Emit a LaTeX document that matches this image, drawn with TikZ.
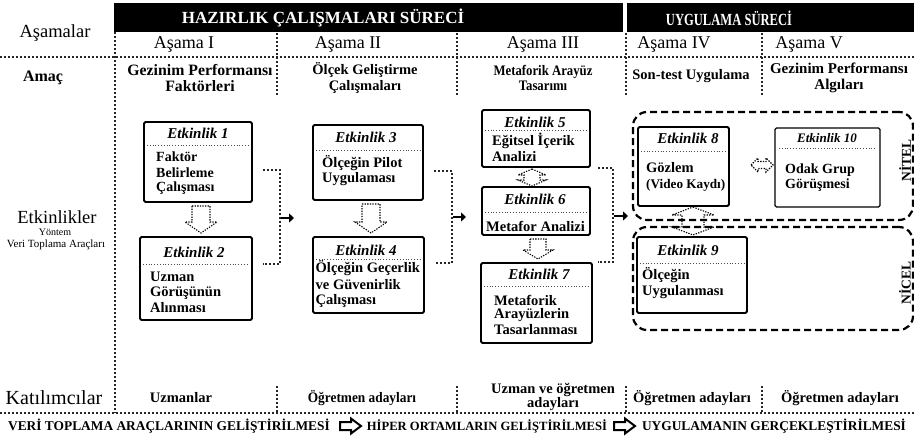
\documentclass[tikz,border=0pt]{standalone}
\usepackage{fontspec}
\setmainfont{Liberation Serif}
\usetikzlibrary{arrows.meta,calc}
\newcommand{\myfs}[1]{\fontsize{#1}{#1}\selectfont}
\begin{document}
\begin{tikzpicture}[x=1pt,y=-1pt,
  gridline/.style={line width=1.5pt, dash pattern=on 1.5pt off 2.5pt, black!85},
  sepline/.style={line width=0.9pt, dash pattern=on 1pt off 1.8pt, black!70},
  conline/.style={line width=1.7pt, dash pattern=on 1.7pt off 2.3pt, black!85},
  ebox/.style={draw, line width=1.8pt, rounded corners=1.5pt, inner sep=0pt},
  grp/.style={draw, line width=2.2pt, dash pattern=on 7pt off 4pt, rounded corners=14pt},
  harrow/.style={line width=1.1pt, dash pattern=on 1.3pt off 1.3pt, line join=miter},
  solidarr/.style={line width=2.6pt, -{Triangle[length=5pt,width=9pt]}},
  bigarr/.style={line width=2pt, line join=miter},
  hdr/.style={text=white, font=\bfseries\myfs{17}},
  stage/.style={font=\myfs{18}},
  aim/.style={font=\bfseries\myfs{14.5}, align=center, inner sep=0pt},
  part/.style={font=\bfseries\myfs{14.5}, align=center, inner sep=0pt},
  ttl/.style={font=\bfseries\itshape\myfs{15}, inner sep=0pt},
  body/.style={font=\bfseries\myfs{14.5}, anchor=west, inner sep=0pt},
  foot/.style={font=\bfseries\myfs{13.4}, inner sep=0pt}
]
\useasboundingbox (0,0) rectangle (914,437);

% header bars
\fill (114,3) rectangle (623,32);
\fill (627,3) rectangle (914,32);
\node[hdr] (h1) at (323,18) {HAZIRLIK ÇALIŞMALARI SÜRECİ};
\node[hdr] (h2) at (729,18) {\scalebox{0.74}[1]{UYGULAMA SÜRECİ}};

% grid lines
\draw[gridline] (115,32) -- (115,413);
\foreach \x in {277,457,626,762} {
  \draw[gridline] (\x,33) -- (\x,97);
  \draw[gridline] (\x,386) -- (\x,413);
}
\draw[gridline] (0,57) -- (914,57);
\draw[gridline] (0,413) -- (914,413);

% left labels
\node[font=\myfs{18.5}] (lA) at (55,33) {Aşamalar};
\node[font=\bfseries\myfs{16}] (lB) at (43,78) {Amaç};
\node[font=\myfs{18.5}] (lC) at (57,217) {Etkinlikler};
\node[font=\myfs{10}] (lD) at (55,232) {Yöntem};
\node[font=\myfs{11}] (lE) at (56,245) {Veri Toplama Araçları};
\node[font=\myfs{20}] (lF) at (54,398) {Katılımcılar};

% stages
\node[stage] (s1) at (184,44) {Aşama I};
\node[stage] (s2) at (348,44) {Aşama II};
\node[stage] (s3) at (543,44) {Aşama III};
\node[stage] (s4) at (674,44) {Aşama IV};
\node[stage] (s5) at (809,44) {Aşama V};

% aims
\node[aim, font=\bfseries\myfs{15.8}] (m1) at (200,78) {Gezinim Performansı\\[1pt]Faktörleri};
\node[aim] (m2) at (365,78) {Ölçek Geliştirme\\[1pt]Çalışmaları};
\node[aim] (m3) at (543,78) {\scalebox{0.88}[1]{Metaforik Arayüz}\\[1pt]\scalebox{0.88}[1]{Tasarımı}};
\node[aim] (m4) at (691,76) {Son-test Uygulama};
\node[aim, font=\bfseries\myfs{15}] (m5) at (839,78) {Gezinim Performansı\\[1pt]Algıları};

% participants
\node[part] (p1) at (181,398) {Uzmanlar};
\node[part] (p2) at (362,398) {\scalebox{0.92}[1]{Öğretmen adayları}};
\node[part] (p3) at (553,397) {Uzman ve öğretmen\\[0pt]adayları};
\node[part] (p4) at (692,398) {Öğretmen adayları};
\node[part] (p5) at (840,398) {Öğretmen adayları};

% ---------- boxes ----------
% box 1
\node[ebox, minimum width=108pt, minimum height=80pt] (b1) at (198,162) {};
\node[ttl] at (198,133) {Etkinlik 1};
\draw[sepline] (147,145) -- (249,145);
\node[body, font=\bfseries\myfs{14}] at (156,157) {Faktör};
\node[body, font=\bfseries\myfs{14}] at (156,173) {Belirleme};
\node[body, font=\bfseries\myfs{14}] at (156,188) {Çalışması};
% box 2
\node[ebox, minimum width=112pt, minimum height=83pt] (b2) at (196,278.5) {};
\node[ttl] at (194,252) {Etkinlik 2};
\draw[sepline] (143,264) -- (249,264);
\node[body] at (150,277) {Uzman};
\node[body] at (150,293) {Görüşünün};
\node[body] at (150,308) {Alınması};
% box 3
\node[ebox, minimum width=110pt, minimum height=75pt] (b3) at (368,162.5) {};
\node[ttl] at (366,137) {Etkinlik 3};
\draw[sepline] (316,150) -- (420,150);
\node[body] at (322,163) {Ölçeğin Pilot};
\node[body] at (322,179) {Uygulaması};
% box 4
\node[ebox, minimum width=111pt, minimum height=76pt] (b4) at (368.5,275) {};
\node[ttl] at (366,250) {Etkinlik 4};
\draw[sepline] (316,259) -- (421,259);
\node[body] at (315.5,268) {Ölçeğin Geçerlik};
\node[body] at (315.5,285) {ve Güvenirlik};
\node[body] at (315.5,301) {Çalışması};
% box 5
\node[ebox, minimum width=108pt, minimum height=57pt] (b5) at (536,138.5) {};
\node[ttl] at (535,122) {Etkinlik 5};
\draw[sepline] (485,130) -- (587,130);
\node[body] at (492,141) {Eğitsel İçerik};
\node[body] at (492,157) {Analizi};
% box 6
\node[ebox, minimum width=108pt, minimum height=48pt] (b6) at (536,211) {};
\node[ttl] at (535,199) {Etkinlik 6};
\draw[sepline] (485,212) -- (587,212);
\node[body] at (486,226) {Metafor Analizi};
% box 7
\node[ebox, minimum width=111pt, minimum height=80pt] (b7) at (536.5,303) {};
\node[ttl] at (539,274) {Etkinlik 7};
\draw[sepline] (484,286) -- (589,286);
\node[body] at (494,300) {Metaforik};
\node[body] at (494,315) {Arayüzlerin};
\node[body] at (494,330) {Tasarlanması};
% groups
\node[grp, minimum width=280pt, minimum height=108pt] (gN) at (773,166) {};
\node[grp, minimum width=280pt, minimum height=103pt] (gC) at (773,278.5) {};
\node[font=\bfseries\myfs{13.5}, rotate=90] (tN) at (905,160) {NİTEL};
\node[font=\bfseries\myfs{13.5}, rotate=90] (tC) at (905,283) {NİCEL};
% box 8
\node[ebox, minimum width=91pt, minimum height=79pt, fill=white] (b8) at (683.5,166.5) {};
\node[ttl] at (688,138) {Etkinlik 8};
\draw[sepline] (641,151) -- (726,151);
\node[body] at (646,168) {Gözlem};
\node[body, font=\bfseries\myfs{13.2}] at (646,185) {(Video Kaydı)};
% box 10
\node[ebox, line width=1.1pt, minimum width=105pt, minimum height=79pt] (b10) at (827.5,167.5) {};
\node[ttl, font=\bfseries\itshape\myfs{13}] at (827,138) {Etkinlik 10};
\draw[sepline] (779,148) -- (876,148);
\node[body, font=\bfseries\myfs{14}] at (785,170) {Odak Grup};
\node[body, font=\bfseries\myfs{14}] at (785,185) {Görüşmesi};
% box 9
\node[ebox, minimum width=110pt, minimum height=76pt, fill=white] (b9) at (692,275) {};
\node[ttl] at (688,250) {Etkinlik 9};
\draw[sepline] (640,263) -- (744,263);
\node[body] at (642,275) {Ölçeğin};
\node[body] at (642,292) {Uygulanması};

% ---------- dotted bracket connectors ----------
\coordinate (k1) at (280,217);
\coordinate (k2) at (452,217);
\coordinate (k3) at (613,216);
\draw[conline] ($(b1.east)+(10,8)$) -| (k1) |- ($(b2.east)+(10,-14.5)$);
\draw[conline] ($(b3.east)+(10,8.5)$) -| (k2) |- ($(b4.east)+(10,-12)$);
\draw[conline] ($(b5.east)+(7,29.5)$) -| (k3) |- ($(b7.east)+(5,-41)$);
\draw[solidarr] ($(k1)+(1,1)$) -- ++(13,0);
\draw[solidarr] ($(k2)+(1,0)$) -- ++(13,0);
\draw[solidarr] ($(k3)+(1,0)$) -- ++(14,0);

% ---------- hollow dotted arrows ----------
\draw[harrow] (192,206) -- (210,206) -- (210,222) -- (217,222) -- (201,233) -- (185,222) -- (192,222) -- cycle;
\draw[harrow] (362,204) -- (380,204) -- (380,222) -- (387,222) -- (371,233) -- (355,222) -- (362,222) -- cycle;
\draw[harrow] (530,239) -- (546,239) -- (546,250) -- (553,250) -- (538,259) -- (523,250) -- (530,250) -- cycle;
\draw[harrow] (532,169) -- (546,175) -- (540,175) -- (540,180) -- (546,180) -- (532,186) -- (518,180) -- (524,180) -- (524,175) -- (518,175) -- cycle;
\draw[harrow] (751,165) -- (758,158) -- (758,161.5) -- (766,161.5) -- (766,158) -- (773,165) -- (766,172) -- (766,168.5) -- (758,168.5) -- (758,172) -- cycle;
\draw[harrow] (693,207) -- (714,215) -- (704,215) -- (704,227) -- (714,227) -- (693,235) -- (672,227) -- (682,227) -- (682,215) -- (672,215) -- cycle;

% ---------- footer ----------
\node[foot] (f1) at (169,426) {VERİ TOPLAMA ARAÇLARININ GELİŞTİRİLMESİ};
\node[foot, font=\bfseries\myfs{12.6}] (f2) at (487,426) {HİPER ORTAMLARIN GELİŞTİRİLMESİ};
\node[foot] (f3) at (774,426) {UYGULAMANIN GERÇEKLEŞTİRİLMESİ};
\draw[bigarr] (340,422) -- (351,422) -- (351,418.5) -- (361,426) -- (351,433.5) -- (351,430) -- (340,430) -- cycle;
\draw[bigarr] (614,422) -- (625,422) -- (625,418.5) -- (635,426) -- (625,433.5) -- (625,430) -- (614,430) -- cycle;
\end{tikzpicture}
\end{document}
